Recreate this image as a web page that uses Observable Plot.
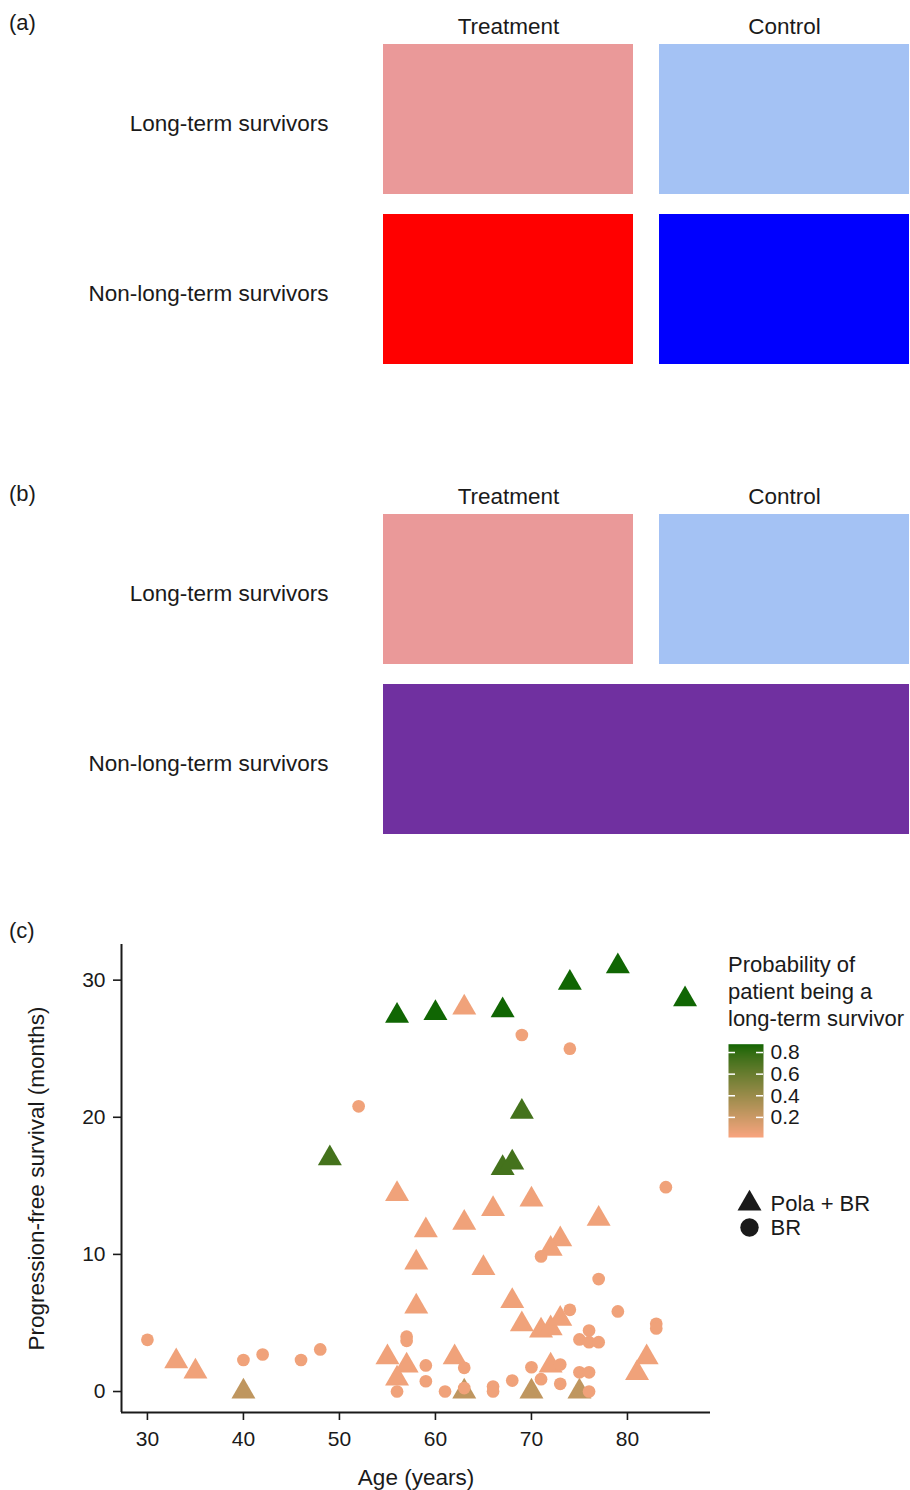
<!DOCTYPE html>
<html>
<head>
<meta charset="utf-8">
<script src="https://cdn.jsdelivr.net/npm/d3@7"></script>
<script src="https://cdn.jsdelivr.net/npm/@observablehq/plot@0.6"></script>
<style>
  body { margin: 0; background: #fff; }
  #page { position: relative; width: 910px; height: 1490px; overflow: hidden; background: #fff;
          font-family: "Liberation Sans", Arial, sans-serif; color: #1a1a1a; }
  .abs { position: absolute; }
  .plab { position: absolute; left: 9px; font-size: 22px; line-height: 22px; }
  #ctitle { position: absolute; left: 728px; top: 951px; font-size: 22px; line-height: 27px; }
</style>
</head>
<body>
<div id="page"></div>
<script>
// ---------- Panels (a) and (b): categories ----------
const columns = ["Treatment", "Control"];
const rows = ["Long-term survivors", "Non-long-term survivors"];

// panel (a) cells
const aCol  = ["Treatment", "Control", "Treatment", "Control"];
const aRow  = ["Long-term survivors", "Long-term survivors", "Non-long-term survivors", "Non-long-term survivors"];
const aFill = ["#EA9999", "#A4C2F4", "#FF0000", "#0000FF"];

// panel (b) cells (first column to last column spanned)
const bColFrom = ["Treatment", "Control", "Treatment"];
const bColTo   = ["Treatment", "Control", "Control"];
const bRow     = ["Long-term survivors", "Long-term survivors", "Non-long-term survivors"];
const bFill    = ["#EA9999", "#A4C2F4", "#7030A0"];

// ---------- Panel (c): scatter data ----------
const polaAge  = [56, 60, 67, 74, 79, 86,
                  63,
                  69, 67, 68, 49,
                  56, 59, 63, 66, 70, 77, 73, 72, 58, 65, 58, 68, 69, 71, 72, 73, 82, 81, 55, 57, 56, 62, 72, 33, 35,
                  40, 63, 70, 75];
const polaPfs  = [27.4, 27.6, 27.8, 29.8, 31.0, 28.6,
                  28.0,
                  20.4, 16.3, 16.7, 17.0,
                  14.4, 11.75, 12.3, 13.3, 14.0, 12.6, 11.1, 10.4, 9.4, 9.0, 6.2, 6.6, 4.9, 4.45, 4.6, 5.3, 2.5, 1.35, 2.5, 1.9, 0.95, 2.5, 1.9, 2.2, 1.45,
                  0, 0, 0, 0];
const polaProb = [0.877, 0.877, 0.877, 0.877, 0.877, 0.877,
                  0.05,
                  0.74, 0.74, 0.74, 0.74,
                  0.05, 0.05, 0.05, 0.05, 0.05, 0.05, 0.05, 0.05, 0.05, 0.05, 0.05, 0.05, 0.05, 0.05, 0.05, 0.05, 0.05, 0.05, 0.05, 0.05, 0.05, 0.05, 0.05, 0.05, 0.05,
                  0.25, 0.25, 0.25, 0.25];

const brAge  = [52, 69, 74, 84, 71, 77, 74, 79, 83, 83, 76, 75, 76, 77, 57, 57, 56, 59, 59, 61, 63, 63, 66, 66, 68, 70, 71, 73, 73, 75, 76, 76, 30, 40, 42, 46, 48];
const brPfs  = [20.8, 26.0, 25.0, 14.9, 9.85, 8.2, 5.96, 5.84, 4.94, 4.6, 4.45, 3.8, 3.6, 3.6, 4.0, 3.7, 0, 1.9, 0.75, 0, 1.73, 0.25, 0.36, 0, 0.8, 1.77, 0.9, 1.97, 0.56, 1.4, 1.4, 0, 3.77, 2.3, 2.7, 2.3, 3.07];
const brProb = brAge.map(() => 0.05);

const armNames = ["Pola + BR", "BR"];
const xTicks = [30, 40, 50, 60, 70, 80];
const yTicks = [0, 10, 20, 30];
const probTicks = [0.2, 0.4, 0.6, 0.8];
const probDomain = [0.014, 0.877];

// ---------- helpers ----------
const page = document.getElementById("page");
const FONT = "'Liberation Sans', Arial, sans-serif";
const INK = "#1a1a1a";
function place(node, left, top) {
  node.classList.add("abs");
  node.style.left = left + "px";
  node.style.top = top + "px";
  page.appendChild(node);
}
function label(txt, top) {
  const d = document.createElement("div");
  d.className = "plab";
  d.style.top = top + "px";
  d.textContent = txt;
  page.appendChild(d);
}

// ---------- Panel (a) ----------
const aCells = aCol.map((c, i) => ({col: c, row: aRow[i], fill: aFill[i]}));
const panelA = Plot.plot({
  width: 910, height: 400,
  marginLeft: 383, marginRight: 1, marginTop: 44, marginBottom: 36,
  style: {fontFamily: FONT, fontSize: "22.5px", color: INK, background: "transparent"},
  x: {domain: columns, paddingInner: 26 / 276, paddingOuter: 0, axis: null},
  y: {domain: rows, paddingInner: 20 / 170, paddingOuter: 0, axis: null},
  marks: [
    Plot.cell(aCells, {x: "col", y: "row", fill: "fill"}),
    Plot.axisX({anchor: "top", tickSize: 0, tickPadding: 11, label: null}),
    Plot.axisY({anchor: "left", tickSize: 0, tickPadding: 55, dy: 4, label: null})
  ]
});
place(panelA, 0, 0);
label("(a)", 12);

// ---------- Panel (b) ----------
// columns occupy unit intervals [i, i+1]; the half-gap between columns is applied as an inset
const colIndex = c => columns.indexOf(c);
const halfGap = 13, colStep = 276;
const bCells = bRow.map((r, i) => ({x1: colIndex(bColFrom[i]), x2: colIndex(bColTo[i]) + 1, row: r, fill: bFill[i]}));
const panelB = Plot.plot({
  width: 910, height: 400,
  marginLeft: 383, marginRight: 1, marginTop: 44, marginBottom: 36,
  style: {fontFamily: FONT, fontSize: "22.5px", color: INK, background: "transparent"},
  x: {type: "linear", domain: [halfGap / colStep, columns.length - halfGap / colStep], axis: null},
  y: {domain: rows, paddingInner: 20 / 170, paddingOuter: 0, axis: null},
  marks: [
    Plot.barX(bCells, {x1: "x1", x2: "x2", y: "row", fill: "fill", insetLeft: halfGap, insetRight: halfGap}),
    Plot.axisX({anchor: "top", ticks: columns.map((c, i) => i + 0.5), tickFormat: v => columns[Math.floor(v)],
                tickSize: 0, tickPadding: 11, label: null}),
    Plot.axisY({anchor: "left", tickSize: 0, tickPadding: 55, dy: 4, label: null})
  ]
});
place(panelB, 0, 470);
label("(b)", 483);

// ---------- Panel (c) ----------
const pola = polaAge.map((a, i) => ({age: a, pfs: polaPfs[i], prob: polaProb[i], arm: armNames[0]}));
const br = brAge.map((a, i) => ({age: a, pfs: brPfs[i], prob: brProb[i], arm: armNames[1]}));
const xDomain = [27.3, 88.65];
const yDomain = [-1.53, 32.6];
const colorOpts = {type: "linear", domain: probDomain, range: ["#F9A47F", "#106603"], interpolate: "lab"};

const panelC = Plot.plot({
  width: 910, height: 590,
  marginLeft: 121, marginRight: 200, marginTop: 44, marginBottom: 78,
  style: {fontFamily: FONT, fontSize: "21px", color: INK, background: "transparent"},
  x: {domain: xDomain},
  y: {domain: yDomain},
  color: colorOpts,
  symbol: {domain: armNames, range: ["triangle", "circle"]},
  marks: [
    Plot.axisX({ticks: xTicks, tickSize: 8, tickPadding: 11, strokeWidth: 1.6, label: null}),
    Plot.axisY({ticks: yTicks, tickSize: 8, tickPadding: 8, strokeWidth: 1.6, label: null}),
    Plot.axisX({ticks: [], label: "Age (years)", labelAnchor: "center", labelArrow: "none", labelOffset: 72, fontSize: 22.5}),
    Plot.axisY({ticks: [], label: "Progression-free survival (months)", labelAnchor: "center", labelArrow: "none", labelOffset: 93, fontSize: 22.5}),
    Plot.ruleX([xDomain[0]], {stroke: INK, strokeWidth: 2}),
    Plot.ruleY([yDomain[0]], {stroke: INK, strokeWidth: 2}),
    Plot.dot(pola, {x: "age", y: "pfs", symbol: "arm", fill: "prob", r: 8.9}),
    Plot.dot(br, {x: "age", y: "pfs", symbol: "arm", fill: "prob", r: 6.35})
  ]
});
place(panelC, 0, 900);
label("(c)", 920);

// colour legend title
const ct = document.createElement("div");
ct.id = "ctitle";
ct.innerHTML = "Probability of<br>patient being a<br>long-term survivor";
page.appendChild(ct);

// colour bar
const colorBar = Plot.plot({
  width: 90, height: 114,
  marginLeft: 0, marginRight: 55, marginTop: 10.7, marginBottom: 10,
  style: {fontFamily: FONT, fontSize: "21px", color: INK, background: "transparent"},
  x: {domain: [0, 1], axis: null},
  y: {domain: probDomain},
  color: colorOpts,
  marks: [
    Plot.raster({x1: 0, x2: 1, y1: probDomain[0], y2: probDomain[1], fill: (x, y) => y, pixelSize: 1}),
    Plot.ruleY(probTicks, {x1: 0, x2: 0.2, stroke: "white", strokeWidth: 1.5}),
    Plot.ruleY(probTicks, {x1: 0.8, x2: 1, stroke: "white", strokeWidth: 1.5}),
    Plot.axisY({anchor: "right", ticks: probTicks, tickSize: 0, tickPadding: 7, label: null})
  ]
});
place(colorBar, 728, 1033);

// shape legend
const shapeLegend = Plot.plot({
  width: 175, height: 64,
  marginLeft: 0, marginRight: 0, marginTop: 15, marginBottom: 24.5,
  style: {fontFamily: FONT, fontSize: "22px", color: INK, background: "transparent"},
  x: {domain: [0, 1], axis: null},
  y: {type: "point", domain: armNames, padding: 0, axis: null},
  symbol: {domain: armNames, range: ["triangle", "circle"]},
  marks: [
    Plot.dot([armNames[0]], {y: d => d, symbol: d => d, frameAnchor: "left", dx: 14, r: 8.9, fill: INK}),
    Plot.dot([armNames[1]], {y: d => d, symbol: d => d, frameAnchor: "left", dx: 14, r: 9.2, fill: INK}),
    Plot.text(armNames, {y: d => d, text: d => d, frameAnchor: "left", textAnchor: "start", dx: 35, fill: INK})
  ]
});
place(shapeLegend, 735, 1188);
</script>
</body>
</html>
